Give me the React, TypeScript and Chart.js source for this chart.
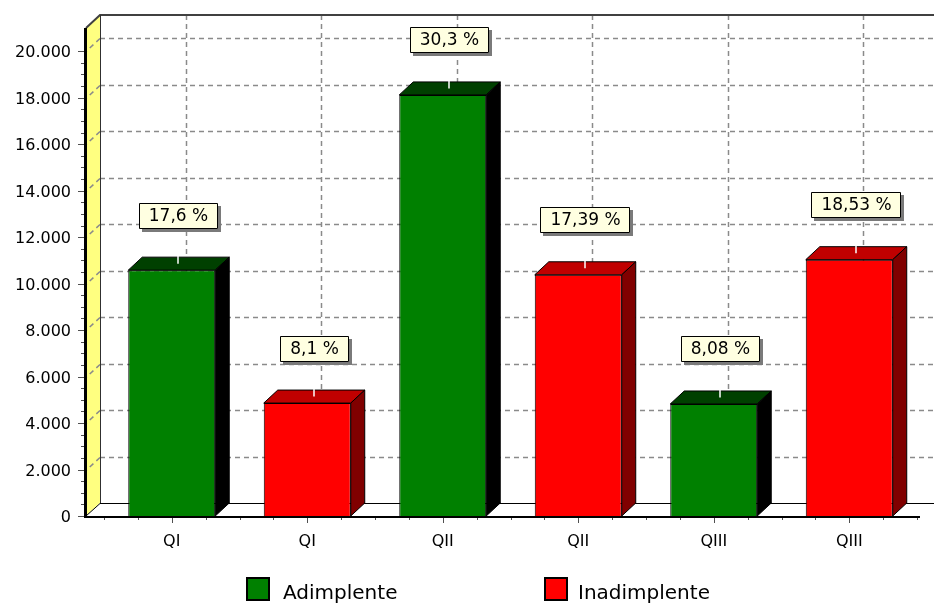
import React, { useEffect, useRef } from 'react';
import { Chart, registerables } from 'chart.js';

Chart.register(...registerables);

// Quarter categories, two bars per quarter
const categories = ['QI', 'QI', 'QII', 'QII', 'QIII', 'QIII'];
const adimplente = [10580, null, 18120, null, 4820, null];
const inadimplente = [null, 4860, null, 10380, null, 11030];
const shareLabels = ['17,6 %', '8,1 %', '30,3 %', '17,39 %', '8,08 %', '18,53 %'];
const seriesNames = ['Adimplente', 'Inadimplente'];
const yTickValues = [0, 2000, 4000, 6000, 8000, 10000, 12000, 14000, 16000, 18000, 20000];

const Y_MAX = 21000;
const Y_MINOR = 500;

const FONT = 'DejaVu Sans';
const GREEN = { front: '#008000', top: '#004000', side: '#000000' };
const RED = { front: '#ff0000', top: '#c00000', side: '#800000' };

// depth of the pseudo-3D box
const DX = 14;
const DY = -13;

const formatThousands = (v: number) => String(v).replace(/\B(?=(\d{3})+(?!\d))/g, '.');

const boxPlugin = {
  id: 'box3d',
  beforeDatasetsDraw(chart: any) {
    const ctx = chart.ctx;
    const { left, right, top, bottom } = chart.chartArea;
    const ys = chart.scales.y;
    const xs = chart.scales.x;
    const axisX = left - 18;
    const floorR = right + 3;
    ctx.save();

    // back wall
    ctx.fillStyle = '#ffffff';
    ctx.fillRect(axisX + DX, top + DY, floorR - axisX, bottom - top);

    // left wall
    ctx.beginPath();
    ctx.moveTo(axisX, top);
    ctx.lineTo(axisX + DX, top + DY);
    ctx.lineTo(axisX + DX, bottom + DY);
    ctx.lineTo(axisX, bottom);
    ctx.closePath();
    ctx.fillStyle = '#ffff80';
    ctx.fill();

    // floor
    ctx.beginPath();
    ctx.moveTo(axisX, bottom);
    ctx.lineTo(axisX + DX, bottom + DY);
    ctx.lineTo(floorR + DX, bottom + DY);
    ctx.lineTo(floorR, bottom);
    ctx.closePath();
    ctx.fillStyle = '#ffffff';
    ctx.fill();

    // dashed grid on the back wall
    ctx.setLineDash([5, 4]);
    ctx.strokeStyle = '#8a8a8a';
    ctx.lineWidth = 1.5;
    yTickValues.forEach((v) => {
      if (v === 0) return;
      const py = Math.round(ys.getPixelForValue(v) + DY) + 0.5;
      ctx.beginPath();
      ctx.moveTo(axisX + DX, py);
      ctx.lineTo(floorR + DX, py);
      ctx.stroke();
      // continuation across the side wall
      ctx.beginPath();
      ctx.moveTo(axisX + DX, py);
      ctx.lineTo(axisX, py - DY);
      ctx.stroke();
    });
    for (let i = 0; i < categories.length; i++) {
      const px = Math.round(xs.getPixelForValue(i) + DX) + 0.5;
      ctx.beginPath();
      ctx.moveTo(px, top + DY);
      ctx.lineTo(px, bottom + DY);
      ctx.stroke();
    }
    ctx.setLineDash([]);

    // box edges
    ctx.strokeStyle = '#404040';
    ctx.lineWidth = 2;
    ctx.beginPath();
    ctx.moveTo(axisX, top);
    ctx.lineTo(axisX + DX, top + DY);
    ctx.lineTo(floorR + DX, top + DY);
    ctx.stroke();

    ctx.strokeStyle = '#303030';
    ctx.lineWidth = 1;
    ctx.beginPath();
    ctx.moveTo(axisX + DX + 0.5, top + DY);
    ctx.lineTo(axisX + DX + 0.5, bottom + DY);
    ctx.stroke();

    ctx.strokeStyle = '#000000';
    ctx.lineWidth = 1;
    ctx.beginPath();
    ctx.moveTo(axisX, bottom);
    ctx.lineTo(axisX + DX, bottom + DY + 0.5);
    ctx.lineTo(floorR + DX, bottom + DY + 0.5);
    ctx.stroke();

    // front axes
    ctx.lineWidth = 3;
    ctx.beginPath();
    ctx.moveTo(axisX - 0.5, top);
    ctx.lineTo(axisX - 0.5, bottom + 2);
    ctx.stroke();
    ctx.lineWidth = 2;
    ctx.beginPath();
    ctx.moveTo(axisX - 2, bottom + 1);
    ctx.lineTo(floorR, bottom + 1);
    ctx.stroke();

    ctx.restore();
  },
  afterDatasetsDraw(chart: any) {
    const ctx = chart.ctx;
    const { left, right, bottom } = chart.chartArea;
    const ys = chart.scales.y;
    const axisX = left - 18;
    const floorR = right + 3;
    const palettes = [GREEN, RED];
    ctx.save();

    // top and side faces of each bar
    chart.data.datasets.forEach((ds: any, di: number) => {
      const meta = chart.getDatasetMeta(di);
      const pal = palettes[di];
      meta.data.forEach((bar: any, i: number) => {
        if (ds.data[i] == null) return;
        const { x, y, base, width } = bar.getProps(['x', 'y', 'base', 'width'], true);
        const l = x - width / 2;
        const r = x + width / 2;
        ctx.lineWidth = 1;
        ctx.strokeStyle = '#000000';
        ctx.lineJoin = 'round';
        // top face
        ctx.beginPath();
        ctx.moveTo(l, y);
        ctx.lineTo(l + DX, y + DY);
        ctx.lineTo(r + DX, y + DY);
        ctx.lineTo(r, y);
        ctx.closePath();
        ctx.fillStyle = pal.top;
        ctx.fill();
        ctx.stroke();
        // side face
        ctx.beginPath();
        ctx.moveTo(r, y);
        ctx.lineTo(r + DX, y + DY);
        ctx.lineTo(r + DX, base + DY);
        ctx.lineTo(r, base);
        ctx.closePath();
        ctx.fillStyle = pal.side;
        ctx.fill();
        ctx.stroke();
      });
    });

    // percentage callouts
    ctx.font = `17px "${FONT}"`;
    chart.data.datasets.forEach((ds: any, di: number) => {
      const meta = chart.getDatasetMeta(di);
      meta.data.forEach((bar: any, i: number) => {
        if (ds.data[i] == null) return;
        const { x, y } = bar.getProps(['x', 'y'], true);
        const text = shareLabels[i];
        const tw = ctx.measureText(text).width;
        const bw = Math.round(tw + 20);
        const bh = 26;
        const cx = Math.round(x + 6.5);
        const boxBottom = Math.round(y + DY - 28.5);
        const bl = Math.round(cx - bw / 2);
        const bt = boxBottom - bh;
        // leader
        ctx.strokeStyle = '#ffffff';
        ctx.lineWidth = 1.5;
        ctx.beginPath();
        ctx.moveTo(cx, boxBottom);
        ctx.lineTo(cx, y + DY / 2);
        ctx.stroke();
        // shadow
        ctx.fillStyle = '#7a7a7a';
        ctx.fillRect(bl + 3, bt + 3, bw, bh);
        // box
        ctx.fillStyle = '#ffffe1';
        ctx.fillRect(bl, bt, bw, bh);
        ctx.strokeStyle = '#000000';
        ctx.lineWidth = 1;
        ctx.strokeRect(bl + 0.5, bt + 0.5, bw - 1, bh - 1);
        ctx.fillStyle = '#000000';
        ctx.textAlign = 'center';
        ctx.textBaseline = 'middle';
        ctx.fillText(text, cx + 0.5, bt + bh / 2 + 1);
      });
    });

    // tick marks on the front axes
    ctx.strokeStyle = '#505050';
    ctx.lineWidth = 1;
    for (let v = 0; v <= yTickValues[yTickValues.length - 1]; v += Y_MINOR) {
      const py = Math.round(ys.getPixelForValue(v)) + 0.5;
      const len = yTickValues.includes(v) ? 6 : 3;
      ctx.beginPath();
      ctx.moveTo(axisX - 2 - len, py);
      ctx.lineTo(axisX - 2, py);
      ctx.stroke();
    }
    const catW = (right - left) / categories.length;
    for (let k = 0; k <= categories.length * 4; k++) {
      const px = Math.round(left + (k * catW) / 4) + 0.5;
      if (px > floorR) continue;
      const len = k % 4 === 2 ? 5 : 2;
      ctx.beginPath();
      ctx.moveTo(px, bottom + 2);
      ctx.lineTo(px, bottom + 2 + len);
      ctx.stroke();
    }
    ctx.restore();
  },
  afterDraw(chart: any) {
    const ctx = chart.ctx;
    ctx.save();
    const items = [
      { name: seriesNames[0], color: GREEN.front, box: 247, text: 283 },
      { name: seriesNames[1], color: RED.front, box: 545, text: 578 },
    ];
    ctx.font = `20px "${FONT}"`;
    ctx.textAlign = 'left';
    ctx.textBaseline = 'alphabetic';
    items.forEach((it) => {
      ctx.fillStyle = it.color;
      ctx.fillRect(it.box, 578, 22, 22);
      ctx.strokeStyle = '#000000';
      ctx.lineWidth = 2;
      ctx.strokeRect(it.box, 578, 22, 22);
      ctx.fillStyle = '#000000';
      ctx.fillText(it.name, it.text, 599);
    });
    ctx.restore();
  },
};

export default function App() {
  const canvasRef = useRef<HTMLCanvasElement | null>(null);

  useEffect(() => {
    if (!canvasRef.current) return;
    Chart.defaults.font.family = FONT;
    const chart = new Chart(canvasRef.current, {
      type: 'bar',
      data: {
        labels: categories,
        datasets: [
          {
            label: seriesNames[0],
            data: adimplente,
            backgroundColor: GREEN.front,
            borderColor: '#000000',
            borderWidth: 1,
          },
          {
            label: seriesNames[1],
            data: inadimplente,
            backgroundColor: RED.front,
            borderColor: '#000000',
            borderWidth: 1,
          },
        ],
      },
      options: {
        responsive: false,
        animation: false,
        events: [],
        layout: { padding: { top: 28, right: 17, left: 0, bottom: 0 } },
        datasets: {
          bar: { grouped: false, barPercentage: 0.642, categoryPercentage: 1 },
        },
        plugins: {
          legend: { display: false },
          tooltip: { enabled: false },
        },
        scales: {
          x: {
            grid: { display: false, drawTicks: false },
            border: { display: false },
            ticks: { color: '#000000', font: { family: FONT, size: 16 }, padding: 16 },
            afterFit: (s: any) => {
              s.height = 88;
            },
          },
          y: {
            min: 0,
            max: Y_MAX,
            grid: { display: false, drawTicks: true, tickLength: 30 },
            border: { display: false },
            ticks: {
              autoSkip: false,
              padding: 3,
              labelOffset: 2,
              color: '#000000',
              font: { family: FONT, size: 16 },
              callback: (v: any) => formatThousands(Number(v)),
            },
            afterBuildTicks: (s: any) => {
              s.ticks = yTickValues.map((v) => ({ value: v }));
            },
            afterFit: (s: any) => {
              s.width = 104;
            },
          },
        },
      },
      plugins: [boxPlugin],
    });
    return () => chart.destroy();
  }, []);

  return (
    <div style={{ position: 'fixed', left: 0, top: 0, width: 934, height: 604, background: '#ffffff' }}>
      <canvas ref={canvasRef} width={934} height={604} />
    </div>
  );
}
